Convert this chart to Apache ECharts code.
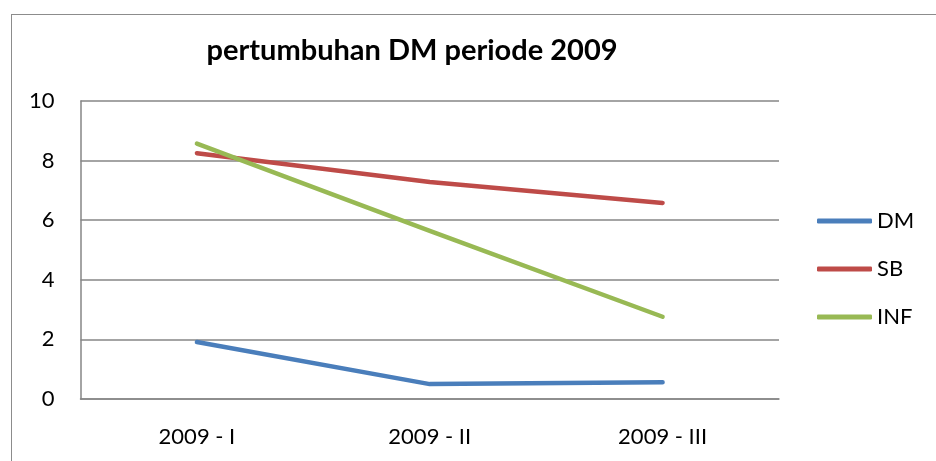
<!DOCTYPE html>
<html>
<head>
<meta charset="utf-8">
<script src="https://cdn.jsdelivr.net/npm/echarts@6/dist/echarts.min.js"></script>
<style>
html,body{margin:0;padding:0;background:#fff;}
#frame{position:absolute;left:11px;top:14px;width:940px;height:460px;border-left:1.5px solid #8c8c8c;border-top:1.5px solid #8c8c8c;box-sizing:border-box;}
#chart{position:absolute;left:0;top:0;width:936px;height:461px;}
</style>
</head>
<body>
<div id="frame"></div>
<div id="chart"></div>
<script>
const titleText = 'pertumbuhan DM periode 2009';
const categories = ['2009 - I', '2009 - II', '2009 - III'];
const seriesNames = ['DM', 'SB', 'INF'];
const dmValues = [1.91, 0.50, 0.56];
const sbValues = [8.25, 7.28, 6.58];
const infValues = [8.57, 5.64, 2.76];
const yTicks = [0, 2, 4, 6, 8, 10];

const colors = ['#4a7ebb', '#be4b48', '#98b954'];
const font = 'Lato, "Open Sans", sans-serif';

const chart = echarts.init(document.getElementById('chart'), null, {renderer: 'canvas'});
const allValues = [dmValues, sbValues, infValues];
chart.setOption({
  animation: false,
  backgroundColor: 'transparent',
  title: {
    text: titleText,
    left: 407,
    textAlign: 'center',
    top: 31,
    textStyle: {fontFamily: font, fontWeight: 'bold', fontSize: 29, color: '#000'}
  },
  legend: {
    orient: 'vertical',
    left: 812,
    top: 205,
    itemWidth: 55,
    itemHeight: 5,
    itemGap: 26,
    icon: 'roundRect',
    data: seriesNames,
    textStyle: {fontFamily: font, fontSize: 22, lineHeight: 22, color: '#000'}
  },
  grid: {left: 80.5, right: 157, top: 101, bottom: 62, containLabel: false},
  xAxis: {
    type: 'category',
    data: categories,
    boundaryGap: true,
    axisLine: {show: true, lineStyle: {color: '#868686', width: 1.5}},
    axisTick: {show: false},
    axisLabel: {fontFamily: font, fontSize: 22, color: '#000', margin: 27}
  },
  yAxis: {
    type: 'value',
    min: yTicks[0],
    max: yTicks[yTicks.length - 1],
    interval: 2,
    axisLine: {show: true, lineStyle: {color: '#868686', width: 1.5}},
    axisTick: {show: false},
    splitLine: {show: true, lineStyle: {color: '#868686', width: 1.5}},
    axisLabel: {fontFamily: font, fontSize: 22, color: '#000', margin: 26}
  },
  series: seriesNames.map((n, i) => ({
    name: n,
    type: 'line',
    data: allValues[i],
    symbol: 'none',
    color: colors[i],
    lineStyle: {width: 4.5, color: colors[i], cap: 'round', join: 'round'},
    itemStyle: {color: colors[i]}
  }))
});
</script>
</body>
</html>
